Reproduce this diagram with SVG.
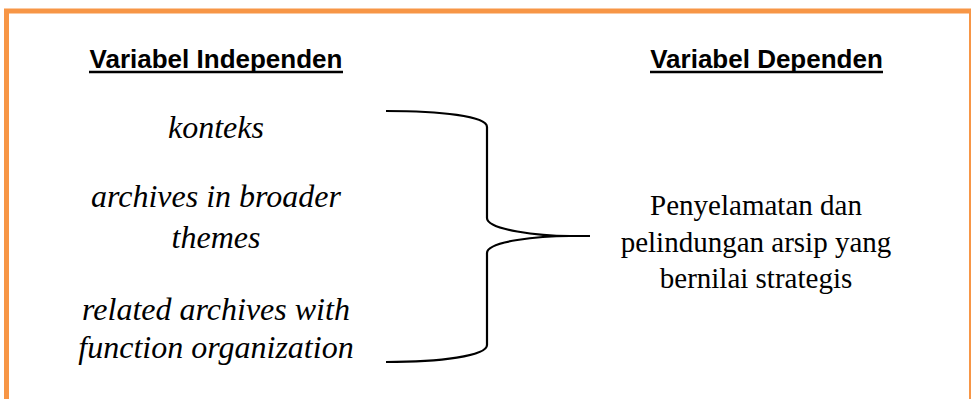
<svg xmlns="http://www.w3.org/2000/svg" width="971" height="399" viewBox="0 0 971 399">
  <style>
    .frame { fill: #ffffff; stroke: #F79646; stroke-width: 5; }
    .head { font-family: "Liberation Sans", Arial, sans-serif; font-weight: bold; font-size: 26px; fill: #000; text-anchor: middle; }
    .uline { stroke: #000; stroke-width: 2.6; }
    .var { font-family: "Liberation Serif", "Times New Roman", serif; font-style: italic; font-size: 32px; fill: #000; text-anchor: middle; }
    .dep { font-family: "Liberation Serif", "Times New Roman", serif; font-size: 29px; fill: #000; text-anchor: middle; }
    .brace { fill: none; stroke: #000; stroke-width: 2.2; }
  </style>
  <rect x="0" y="0" width="971" height="399" fill="#ffffff"/>
  <!-- outer frame, bottom edge runs off the page -->
  <rect class="frame" x="6.5" y="11" width="965" height="420"/>

  <g id="independent-header">
    <text class="head" x="216" y="68">Variabel Independen</text>
    <line class="uline" x1="89" y1="72" x2="343" y2="72"/>
  </g>
  <g id="dependent-header">
    <text class="head" x="766.5" y="68">Variabel Dependen</text>
    <line class="uline" x1="650" y1="72" x2="883" y2="72"/>
  </g>

  <g id="var-konteks">
    <text class="var" x="216" y="138">konteks</text>
  </g>
  <g id="var-broader-themes">
    <text class="var" x="216" y="207">archives in broader</text>
    <text class="var" x="216" y="248">themes</text>
  </g>
  <g id="var-function-organization">
    <text class="var" x="216" y="320">related archives with</text>
    <text class="var" x="216" y="358">function organization</text>
  </g>

  <g id="connectors">
    <path class="brace" d="M386 111 C440 111 487 116 487 127 L487 218 C487 230 540 236 570 236 L590 236 M570 236 C540 236 487 241 487 253 L487 345 C487 356 440 362 386 362"/>
  </g>

  <g id="dependent-variable">
    <text class="dep" x="756" y="215">Penyelamatan dan</text>
    <text class="dep" x="756" y="252">pelindungan arsip yang</text>
    <text class="dep" x="756" y="288">bernilai strategis</text>
  </g>
</svg>
